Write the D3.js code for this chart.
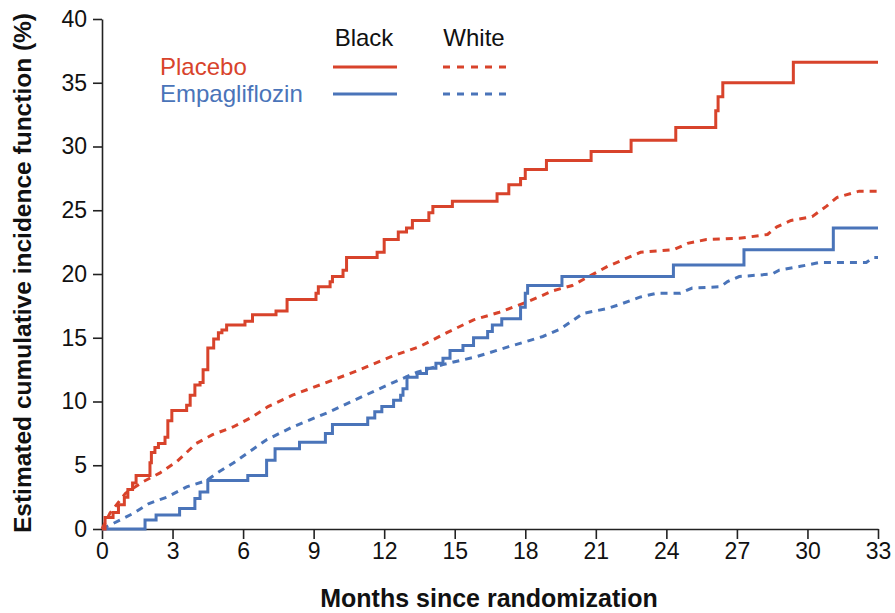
<!DOCTYPE html>
<html>
<head>
<meta charset="utf-8">
<script src="https://cdn.jsdelivr.net/npm/d3@7"></script>
<style>
  body { margin: 0; background: #fff; }
  text { font-family: "Liberation Sans", Arial, Helvetica, sans-serif; }
</style>
</head>
<body>
<div id="chart"></div>
<script>
// months since randomization / cumulative incidence (%) — step points [month, level]
const blackPlacebo = [
  [0, 0], [0.13, 0.9], [0.47, 1.3], [0.7, 1.9], [0.95, 2.5], [1.1, 3.1], [1.3, 3.6], [1.45, 4.2],
  [2.04, 5.2], [2.1, 6.0], [2.25, 6.4], [2.4, 6.7], [2.68, 7.2], [2.8, 8.5], [2.97, 9.3],
  [3.6, 9.7], [3.75, 10.5], [3.95, 11.3], [4.17, 11.5], [4.3, 12.5], [4.5, 14.2], [4.75, 14.9],
  [4.95, 15.4], [5.1, 15.6], [5.3, 16.0], [6.08, 16.3], [6.4, 16.8], [7.4, 17.1], [7.87, 18.0],
  [9.1, 18.5], [9.2, 19.0], [9.7, 19.4], [9.8, 19.8], [10.25, 20.3], [10.4, 21.3], [11.7, 21.7],
  [12.0, 22.7], [12.6, 23.3], [12.95, 23.6], [13.2, 24.2], [13.9, 24.8], [14.07, 25.3],
  [14.9, 25.7], [16.8, 26.3], [17.3, 27.0], [17.8, 27.5], [18.0, 28.2], [18.9, 28.9],
  [20.8, 29.6], [22.5, 30.5], [24.4, 31.5], [26.1, 32.8], [26.2, 33.9], [26.4, 35.0],
  [29.4, 36.6], [33, 36.6]
];
const blackEmpa = [
  [0, 0], [1.83, 0.7], [2.3, 1.1], [3.3, 1.6], [3.95, 2.4], [4.17, 2.9], [4.5, 3.8], [6.2, 4.2],
  [7.0, 5.4], [7.36, 6.3], [8.4, 6.8], [9.5, 7.5], [9.8, 8.2], [11.3, 8.7], [11.6, 9.2],
  [11.9, 9.6], [12.4, 10.1], [12.7, 10.5], [12.8, 11.0], [12.97, 11.9], [13.4, 12.2],
  [13.8, 12.6], [14.2, 13.0], [14.5, 13.4], [14.8, 14.0], [15.35, 14.4], [15.8, 15.0],
  [16.4, 15.5], [16.6, 16.0], [17.0, 16.5], [17.8, 17.4], [18.0, 18.5], [18.1, 19.1],
  [19.56, 19.8], [24.3, 20.7], [27.3, 21.9], [31.1, 23.6], [33, 23.6]
];
const whitePlacebo = [
  [0, 0], [0.34, 1.25], [1.0, 2.8], [1.74, 3.7], [2.47, 4.4], [3.19, 5.3], [4.0, 6.7],
  [4.7, 7.4], [5.57, 8.0], [6.4, 8.8], [7.06, 9.6], [8.1, 10.5], [9.56, 11.5], [10.97, 12.5],
  [12.4, 13.6], [13.5, 14.3], [14.67, 15.4], [15.8, 16.4], [16.9, 17.0], [18.07, 17.8],
  [19.2, 18.7], [20.0, 19.1], [21.5, 20.6], [22.9, 21.7], [24.3, 21.9], [24.9, 22.4],
  [25.7, 22.7], [27.1, 22.8], [28.3, 23.1], [28.7, 23.7], [29.3, 24.2], [30.2, 24.5],
  [30.8, 25.3], [31.25, 26.0], [32.2, 26.5], [33, 26.5]
];
const whiteEmpa = [
  [0, 0], [0.77, 0.7], [1.3, 1.2], [2.0, 2.0], [2.76, 2.5], [3.6, 3.3], [4.45, 3.8], [4.9, 4.4],
  [5.6, 5.2], [6.3, 6.1], [7.0, 7.0], [8.1, 8.0], [9.56, 9.1], [10.97, 10.3], [12.4, 11.5],
  [13.4, 12.3], [14.5, 12.9], [15.9, 13.5], [17.3, 14.3], [18.75, 15.1], [19.5, 15.7],
  [20.45, 16.9], [21.5, 17.3], [22.0, 17.6], [22.9, 18.2], [23.6, 18.5], [24.6, 18.5],
  [25.1, 18.9], [26.3, 19.0], [26.6, 19.4], [27.1, 19.8], [28.5, 20.0], [28.8, 20.3],
  [29.7, 20.6], [30.5, 20.9], [32.5, 20.9], [32.8, 21.3], [33, 21.3]
];

const xTicks = [0, 3, 6, 9, 12, 15, 18, 21, 24, 27, 30, 33];
const yTicks = [0, 5, 10, 15, 20, 25, 30, 35, 40];
const groups = ['Black', 'White'];
const arms = ['Placebo', 'Empagliflozin'];
const xTitle = 'Months since randomization';
const yTitle = 'Estimated cumulative incidence function (%)';

const red = '#d8432b';
const blue = '#4a74b9';

const width = 895, height = 613;
const margin = { top: 19, right: 17, bottom: 84, left: 102 };
const w = width - margin.left - margin.right;
const h = height - margin.top - margin.bottom;

const svg = d3.select('#chart').append('svg')
  .attr('width', width)
  .attr('height', height);

const x = d3.scaleLinear().domain([0, 33]).range([0, w]);
const y = d3.scaleLinear().domain([0, 40]).range([h, 0]);

const chart = svg.append('g')
  .attr('transform', `translate(${margin.left}, ${margin.top})`);

// axes
const xAxis = chart.append('g')
  .attr('transform', `translate(0, ${h})`)
  .call(d3.axisBottom(x).tickValues(xTicks).tickSize(10).tickSizeOuter(0).tickPadding(4));
const yAxis = chart.append('g')
  .call(d3.axisLeft(y).tickValues(yTicks).tickSize(9).tickSizeOuter(0).tickPadding(6));

[xAxis, yAxis].forEach(a => {
  a.select('.domain').attr('stroke', '#222').attr('stroke-width', 1.6);
  a.selectAll('.tick line').attr('stroke', '#222').attr('stroke-width', 1.6);
  a.selectAll('.tick text')
    .attr('fill', '#111')
    .style('font-size', '23px')
    .style('font-family', '"Liberation Sans", Arial, sans-serif');
});

// curves
const stepLine = d3.line()
  .x(d => x(d[0]))
  .y(d => y(d[1]))
  .curve(d3.curveStepAfter);
const smoothLine = d3.line()
  .x(d => x(d[0]))
  .y(d => y(d[1]));

const series = [
  { data: whiteEmpa, color: blue, dash: '7,6', gen: smoothLine },
  { data: whitePlacebo, color: red, dash: '7,6', gen: smoothLine },
  { data: blackEmpa, color: blue, dash: null, gen: stepLine },
  { data: blackPlacebo, color: red, dash: null, gen: stepLine }
];

series.forEach(s => {
  chart.append('path')
    .datum(s.data)
    .attr('fill', 'none')
    .attr('stroke', s.color)
    .attr('stroke-width', 3)
    .attr('stroke-dasharray', s.dash)
    .attr('d', s.gen);
});

// axis titles
svg.append('text')
  .attr('x', margin.left + w / 2 - 1)
  .attr('y', 607)
  .attr('text-anchor', 'middle')
  .style('font-size', '25px')
  .style('font-weight', 'bold')
  .attr('fill', '#111')
  .text(xTitle);

svg.append('text')
  .attr('transform', 'rotate(-90)')
  .attr('x', -273)
  .attr('y', 31)
  .attr('text-anchor', 'middle')
  .style('font-size', '24.5px')
  .style('font-weight', 'bold')
  .attr('fill', '#111')
  .text(yTitle);

// legend
const legend = svg.append('g');
const colX = [333, 443];
const rowY = [67, 94];
const armColors = [red, blue];

groups.forEach((g, i) => {
  legend.append('text')
    .attr('x', colX[i] + 31)
    .attr('y', 46)
    .attr('text-anchor', 'middle')
    .style('font-size', '24px')
    .attr('fill', '#111')
    .text(g);
});

arms.forEach((a, j) => {
  legend.append('text')
    .attr('x', 160)
    .attr('y', rowY[j] + 8)
    .style('font-size', '24px')
    .attr('fill', armColors[j])
    .text(a);
  groups.forEach((g, i) => {
    legend.append('line')
      .attr('x1', colX[i])
      .attr('x2', colX[i] + 64)
      .attr('y1', rowY[j])
      .attr('y2', rowY[j])
      .attr('stroke', armColors[j])
      .attr('stroke-width', 3)
      .attr('stroke-dasharray', i === 1 ? '7,7' : null);
  });
});
</script>
</body>
</html>
